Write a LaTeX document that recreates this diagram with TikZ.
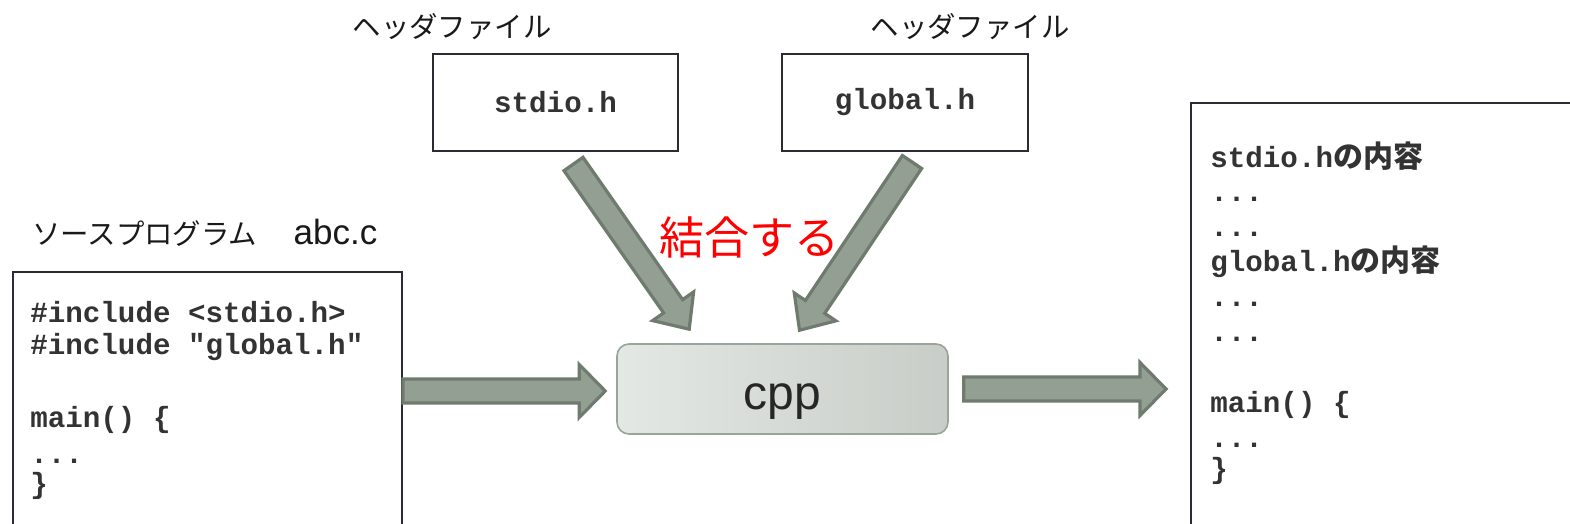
\documentclass[tikz,border=0pt]{standalone}
\usepackage{fontspec}
\setmainfont{Liberation Sans}
\setmonofont{Liberation Mono}
\newfontfamily\cjk{Noto Sans CJK JP}
\usetikzlibrary{calc}
\definecolor{arrfill}{HTML}{939F93}
\definecolor{arrline}{HTML}{6E7B6E}
\definecolor{codegray}{HTML}{333333}
\definecolor{boxline}{HTML}{2B2B33}
\definecolor{cppline}{HTML}{9AA59A}
\definecolor{cppleft}{HTML}{E4E8E4}
\definecolor{cppright}{HTML}{C8CDC8}
\newcommand\codesize{\fontsize{14.6}{17}\selectfont}
\newcommand\jbold[1]{{\cjk\bfseries\fontsize{15}{17}\selectfont #1}}
% #1 start, #2 end, #3 shaft half width, #4 head half width, #5 head length
\newcommand\blockarrow[5]{%
  \path (#1) coordinate (ba-s) (#2) coordinate (ba-e);
  \path ($(ba-e)!#5!(ba-s)$) coordinate (ba-h);
  \draw[blockarr] ($(ba-s)!#3!90:(ba-e)$) -- ($(ba-h)!#3!90:(ba-e)$)
    -- ($(ba-h)!#4!90:(ba-e)$) -- (ba-e) -- ($(ba-h)!#4!-90:(ba-e)$)
    -- ($(ba-h)!#3!-90:(ba-e)$) -- ($(ba-s)!#3!-90:(ba-e)$) -- cycle;}
\tikzset{
  blockarr/.style={fill=arrfill, draw=arrline, line width=1.6pt, line join=miter},
  filebox/.style={draw=boxline, line width=1pt, fill=white, inner sep=0pt},
  code/.style={anchor=base west, inner sep=0pt, text=codegray, font=\codesize\ttfamily\bfseries},
  hdrtext/.style={text=codegray, font=\codesize\ttfamily\bfseries},
  jlabel/.style={inner sep=0pt, text=black!90, font=\cjk\fontsize{14.2}{16}\selectfont},
}
\begin{document}
\begin{tikzpicture}[x=0.5pt, y=-0.5pt]
\useasboundingbox (0,0) rectangle (1570,524);
\fill[white] (0,0) rectangle (1570,524);

% labels
\node[jlabel] (hl1) at (452,27) {ヘッダファイル};
\node[jlabel] (hl2) at (970,27) {ヘッダファイル};
\node[anchor=base west, inner sep=0pt, text=black!90, font=\fontsize{17.5}{19}\selectfont] (srclabel) at (32,244)
  {{\cjk\fontsize{14.2}{16}\selectfont ソースプログラム　}\hspace{4pt}abc.c};

% header boxes
\node[filebox, hdrtext, anchor=north west, minimum width=122.5pt, minimum height=48.5pt] (stdio) at (432,53) {stdio.h};
\node[filebox, hdrtext, anchor=north west, minimum width=123pt, minimum height=48.5pt] (global) at (781,53) {global.h};

% source box
\node[filebox, anchor=north west, minimum width=194.5pt, minimum height=150pt] (src) at (12,271) {};
\node[code] (s1) at (30,322) {\#include <stdio.h>};
\node[code] (s2) at (30,354) {\#include "global.h"};
\node[code] (s3) at (30,427) {main() \{};
\node[code] (s4) at (30,463) {...};
\node[code] (s5) at (30,493) {\}};

% output box
\node[filebox, anchor=north west, minimum width=200pt, minimum height=230pt] (out) at (1190,102) {};
\node[code] (o1) at (1210,168) {stdio.h\jbold{の内容}};
\node[code] (o2) at (1210,201) {...};
\node[code] (o3) at (1210,236) {...};
\node[code] (o4) at (1210,271) {global.h\jbold{の内容}};
\node[code] (o5) at (1210,306) {...};
\node[code] (o6) at (1210,341) {...};
\node[code] (o7) at (1210,412) {main() \{};
\node[code] (o8) at (1210,447) {...};
\node[code] (o9) at (1210,478) {\}};

% cpp
\node[draw=cppline, line width=0.8pt, rounded corners=6pt, left color=cppleft, right color=cppright,
      minimum width=165.5pt, minimum height=45pt, text=black!85, font=\fontsize{24}{28}\selectfont,
      text height=23pt, text depth=3pt] (cpp) at (782.5,389) {cpp};

% red label
\node[inner sep=0pt, text=red, font=\cjk\fontsize{22.5}{26}\selectfont] (join) at (749,237) {結合する};

% arrows
\coordinate (a1s) at ($(src.north east |- cpp.west)+(0,2)$);
\coordinate (a1e) at ($(cpp.west)+(-11,2)$);
\blockarrow{a1s}{a1e}{6pt}{13.25pt}{13pt}
\coordinate (a2s) at ($(cpp.east)+(15,0)$);
\coordinate (a2e) at ($(out.west |- cpp.east)+(-24,0)$);
\blockarrow{a2s}{a2e}{6pt}{13.25pt}{13pt}
\coordinate (a3s) at ($(stdio.south)+(18,12)$);
\coordinate (a3e) at ($(cpp.north west)+(73,-14)$);
\blockarrow{a3s}{a3e}{5.8pt}{12.5pt}{14pt}
\coordinate (a4s) at ($(global.south)+(7,10)$);
\coordinate (a4e) at ($(cpp.north)+(17,-13)$);
\blockarrow{a4s}{a4e}{5.8pt}{12.5pt}{14pt}
\end{tikzpicture}
\end{document}
